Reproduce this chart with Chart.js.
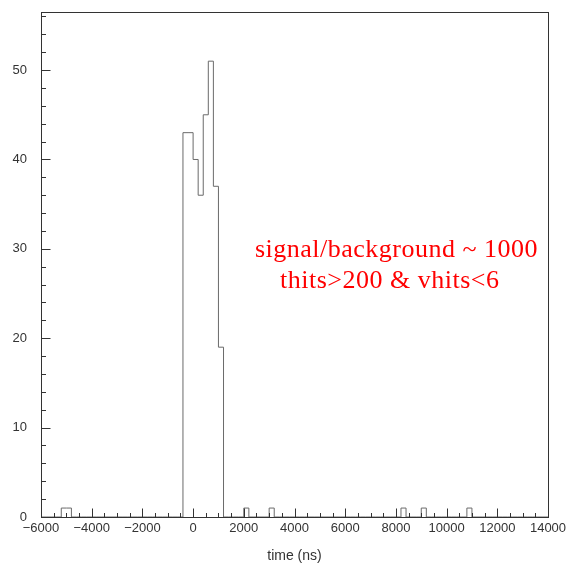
<!DOCTYPE html>
<html>
<head>
<meta charset="utf-8">
<script src="https://cdn.jsdelivr.net/npm/chart.js@4"></script>
<style>
  html, body { margin: 0; padding: 0; background: #fff; }
  #wrap { width: 571px; height: 571px; }
</style>
</head>
<body>
<div id="wrap"><canvas id="c" width="571" height="571"></canvas></div>
<script>
// hit time histogram, 200 ns bins; only the non-empty bins are listed
var binWidth = 200;
var xMin = -6000;
var xMax = 14000;
var binStart = [-5200, -5000, -400, -200, 0, 200, 400, 600, 800, 1000, 2000, 3000, 8200, 9000, 10800];
var binCount = [1, 1, 43, 43, 40, 36, 45, 51, 37, 19, 1, 1, 1, 1, 1];
var yMax = 56.5;
var xStep = 2000, xMinor = 500;
var yStep = 10, yMinor = 2;
var noteLines = ['signal/background ~ 1000', 'thits>200 & vhits<6'];

// full outline of the histogram, every bin from xMin to xMax
var counts = {};
binStart.forEach(function(s, i) { counts[s] = binCount[i]; });
var outline = [];
for (var x = xMin; x < xMax; x += binWidth) {
  outline.push({x: x, y: counts[x] || 0});
}
outline.push({x: xMax, y: 0});

var axisColor = '#333';
var labelFont = {family: "'Liberation Sans', Arial, sans-serif", size: 13};

function fmt(v) {
  return String(v).replace('-', '\u2212');
}

// ROOT-like frame with inward ticks
var rootFrame = {
  id: 'rootFrame',
  afterDraw: function(chart) {
    var ctx = chart.ctx, a = chart.chartArea;
    var xs = chart.scales.x, ys = chart.scales.y;
    var l = Math.round(a.left) + 0.5, r = Math.round(a.right) + 0.5;
    var t = Math.round(a.top) + 0.5, b = Math.round(a.bottom) + 0.5;
    ctx.save();
    ctx.strokeStyle = axisColor;
    ctx.lineWidth = 1;
    ctx.strokeRect(l, t, r - l, b - t);
    ctx.beginPath();
    var v, p, len;
    for (v = 0; v <= yMax; v += yMinor) {
      p = Math.round(ys.getPixelForValue(v)) + 0.5;
      len = (v % yStep === 0) ? 9 : 4.5;
      ctx.moveTo(l, p); ctx.lineTo(l + len, p);
    }
    for (v = xMin; v <= xMax; v += xMinor) {
      p = Math.round(xs.getPixelForValue(v)) + 0.5;
      len = (v % xStep === 0) ? 9 : 4.5;
      ctx.moveTo(p, b); ctx.lineTo(p, b - len);
    }
    ctx.stroke();

    // red annotation
    ctx.fillStyle = '#ff0000';
    ctx.font = "26px 'Liberation Serif', 'Times New Roman', serif";
    ctx.letterSpacing = '0.5px';
    ctx.textBaseline = 'alphabetic';
    ctx.textAlign = 'left';
    ctx.fillText(noteLines[0], xs.getPixelForValue(2440), ys.getPixelForValue(29.1));
    ctx.fillText(noteLines[1], xs.getPixelForValue(3430), ys.getPixelForValue(25.6));
    ctx.restore();
  }
};

var ctx = document.getElementById('c').getContext('2d');
var myChart = new Chart(ctx, {
  type: 'line',
  data: {
    datasets: [{
      data: outline,
      stepped: 'before',
      borderColor: '#6a6a6a',
      borderWidth: 1,
      pointRadius: 0,
      fill: false,
      clip: false
    }]
  },
  options: {
    responsive: false,
    animation: false,
    layout: { padding: { top: 12, right: 23, bottom: 6, left: 0 } },
    plugins: { legend: { display: false }, tooltip: { enabled: false } },
    scales: {
      x: {
        type: 'linear',
        min: xMin,
        max: xMax,
        grid: { display: false, drawTicks: false },
        border: { display: false },
        ticks: {
          stepSize: xStep,
          autoSkip: false,
          maxRotation: 0,
          padding: 4,
          color: axisColor,
          font: labelFont,
          callback: fmt
        },
        title: {
          display: true,
          text: 'time (ns)',
          color: axisColor,
          font: {family: "'Liberation Sans', Arial, sans-serif", size: 14},
          padding: { top: 0, bottom: 0 }
        },
        afterFit: function(s) { s.height = 48; s.paddingLeft = 0; s.paddingRight = 0; }
      },
      y: {
        type: 'linear',
        min: 0,
        max: yMax,
        grid: { display: false, drawTicks: false },
        border: { display: false },
        ticks: {
          stepSize: yStep,
          includeBounds: false,
          padding: 14,
          color: axisColor,
          font: labelFont,
          callback: fmt
        },
        afterFit: function(s) { s.width = 41; s.paddingTop = 0; s.paddingBottom = 0; }
      }
    }
  },
  plugins: [rootFrame]
});
</script>
</body>
</html>
